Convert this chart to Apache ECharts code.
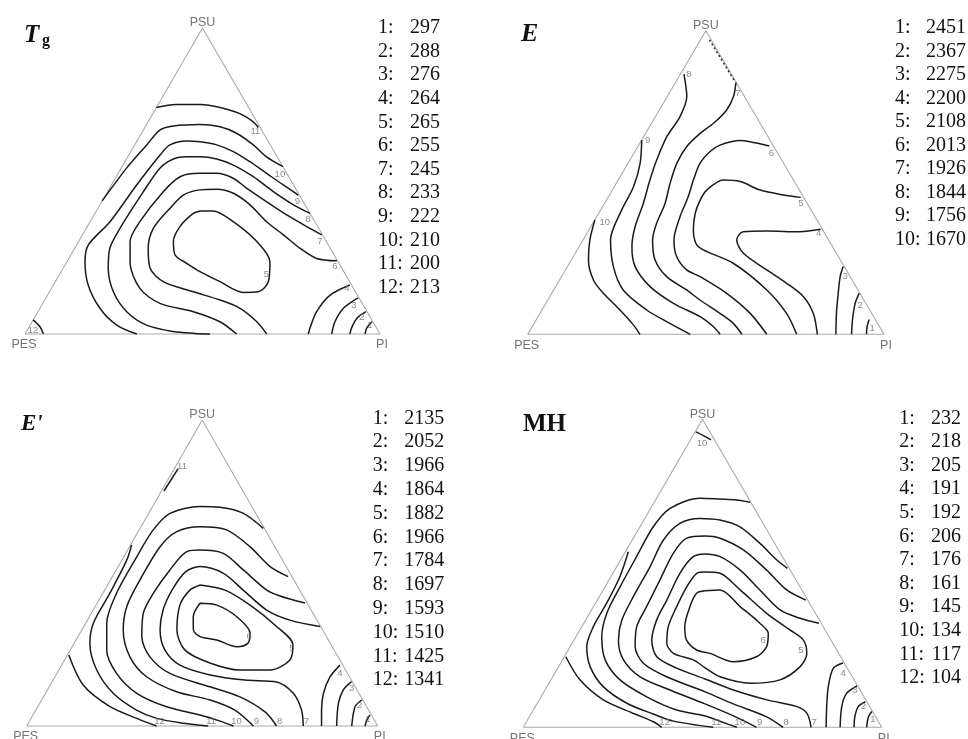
<!DOCTYPE html>
<html>
<head>
<meta charset="utf-8">
<script src="https://cdn.jsdelivr.net/npm/echarts/dist/echarts.min.js"></script>
<style>
  html, body { margin: 0; padding: 0; background: #fff; }
  #chart { width: 968px; height: 739px; }
</style>
</head>
<body>
<div id="chart"></div>
<script>
// Property values attached to each numbered iso-line
const tgLevels = [297, 288, 276, 264, 265, 255, 245, 233, 222, 210, 200, 213];
const eLevels  = [2451, 2367, 2275, 2200, 2108, 2013, 1926, 1844, 1756, 1670];
const epLevels = [2135, 2052, 1966, 1864, 1882, 1966, 1784, 1697, 1593, 1510, 1425, 1341];
const mhLevels = [232, 218, 205, 191, 192, 206, 176, 161, 145, 134, 117, 104];

// Iso-lines as blend compositions [PSU %, PI %]; PES = 100 - PSU - PI
// --- Tg ---
const tg1  = [[4,95.7],[1.9,95.3],[0,95.8]];
const tg2  = [[7.3,92.4],[5.1,90.9],[2,91],[0,91.5]];
const tg3  = [[11.8,87.9],[8.4,85.5],[4,85.3],[0,86.4]];
const tg4  = [[16,83.5],[12.7,79.6],[7.3,78.5],[1.9,79.3],[0,79.8]];
const tg5  = [[40.2,29.2],[40.2,32.9],[36.7,40.3],[30.2,50.2],[23.6,57.2],[17.1,60],[13.8,58.8],[13.6,54.7],[17.1,46.4],[20.4,39.1],[23.1,34],[25.8,29.4],[30.2,26.7],[35.1,26.1],[39.4,27.7],[40.2,29.2]];
const tg6  = [[23.9,75.9],[24.7,69.8],[28,63.5],[32.4,56.6],[36.7,49.7],[42.2,42.3],[46,35.7],[47.3,30.3],[47.1,25.7],[45.4,21.9],[41.1,20.3],[34.5,18.9],[28,20.7],[21.5,24.5],[17.1,30.4],[13.8,40.5],[11.1,49.4],[8.4,56.4],[4,63.3],[0,68.1]];
const tg7  = [[32.4,67.4],[35.1,61.8],[38.9,54.3],[43.2,46.5],[47.6,38.7],[50.9,33.2],[52.5,27.7],[52.5,23],[51.4,18],[46.5,15.7],[36.7,14],[30.2,14.5],[23.6,17.8],[14.9,24.9],[10,33],[7.3,43.8],[4,52.9],[0,59.6]];
const tg8  = [[39.4,60.6],[42.2,54.5],[46.5,46.7],[51.4,38.6],[55.2,31.1],[57.2,25.4],[57.9,20.3],[57.9,16.6],[57.2,13.2],[54.2,10.9],[46.5,10.1],[34.5,9.5],[28,9.9],[21.5,12.7],[13.8,18],[7.3,25],[2.9,32.8],[0.8,41.4],[0.2,47.8],[0,52.1]];
const tg9  = [[45.4,54.3],[48.7,48.4],[52.5,41.8],[56.3,35.2],[59.6,28.9],[61.8,23.1],[62.8,17.9],[63.1,14],[61.8,9.9],[58.5,8.8],[48.7,7.1],[36.7,5.6],[29.1,3.3],[23.6,5.1],[16,9.8],[8.4,16.9],[2.9,24.4],[0,31.5]];
const tg10 = [[43.5,0],[54.2,1.5],[61.8,3.4],[66.7,4.7],[68,7.8],[68.5,15],[67.7,21.1],[65.6,26.8],[61.8,33.4],[57.9,39.1],[54.7,45.3]];
const tg11 = [[74,0],[75,5],[75,12],[74,18],[72,24.5],[69.4,29.5],[67.5,32]];
const tg12 = [[4.6,0],[2.3,3.1],[0,5.2]];

// --- E ---
const e1  = [[4.9,93.4],[2.5,94],[0,95.1]];
const e2  = [[13.5,86.3],[10.2,86.8],[4.7,88.8],[0,90.9]];
const e3  = [[22.3,77.4],[19,78.2],[13.5,80.4],[6.9,83.2],[0,86.5]];
const e4  = [[34.6,64.9],[33.8,59.5],[34,50.1],[33.8,43.6],[31.1,43.1],[26.7,47.2],[21.2,56.5],[16.8,64.3],[12.4,71.2],[6.9,76.7],[0,81.3]];
const e5  = [[45.1,54.1],[45.9,48.8],[47.5,41.5],[50.3,34.5],[50.8,29.5],[47.5,26.5],[44.2,26.3],[39.8,27.1],[34.4,29.3],[30,32.2],[27.8,35.4],[23.4,46],[14.6,59.8],[6.9,69.2],[0,75.5]];
const e6  = [[62,36.8],[63.4,30.7],[63.8,27.7],[62.3,22.8],[60.2,21.1],[56.3,20.2],[50.8,21.1],[45.3,22.4],[38.7,23.4],[31.1,25.5],[25.6,29],[21.2,34],[19,38.9],[13.5,49.1],[6.9,59],[0,67.1]];
const e7  = [[82.9,17],[78.3,18.6],[73.9,18.9],[69.5,17.4],[66.2,15.3],[61.8,13.7],[56.3,13.7],[49.7,15.1],[43.1,17],[36.6,17.9],[31.1,19.5],[24.5,23.5],[19,29.5],[14.6,37.3],[11.3,42.7],[6.9,50.5],[3.6,55.9],[0,60.1]];
const e7edge = [[97,2.5],[83.5,16.3]];
const e8  = [[85.7,1],[78.3,5.5],[71.7,6.9],[65.1,6.5],[57.4,7.5],[50.8,8.9],[43.1,10.9],[35.5,12.4],[28.9,14.8],[22.3,19],[15.7,26.5],[10.2,35.8],[5.8,45.5],[2.5,50.9],[0,54]];
const e9  = [[64,0],[56.3,3.4],[48.6,5.4],[40.9,5.9],[31.1,7.7],[22.3,12.9],[14.6,19.5],[8,29.4],[3.6,38.1],[0,45.6]];
const e10 = [[37.7,0],[31.1,1.9],[24.5,4.8],[17.9,9.5],[13.5,14.5],[8,21.9],[3.1,28.1],[0,31.5]];

// --- E' ---
const ep1  = [[3.6,96],[2,95.9],[0,96.4]];
const ep2  = [[8.5,91.2],[6.3,90.4],[0,92.6]];
const ep3  = [[14.5,85.3],[11.8,84.3],[7.4,85.1],[0,88.3]];
const ep4  = [[19.9,79.3],[16.1,78.4],[10.7,79.2],[5.2,81.4],[0,84]];
const ep5  = [[46.1,26.4],[44.4,34.3],[39.5,43.9],[33,54.2],[26.5,62.6],[21.6,64.2],[18.3,60.2],[18.3,51.6],[20.6,41.9],[24.8,32.7],[31.4,27.1],[39.5,23.9],[44.4,24.3],[46.1,26.4]];
const ep6  = [[40.1,29.3],[39.5,34.4],[35.7,42],[30.3,48.5],[27,49.5],[25.9,46.9],[28.1,40.1],[29.2,34.8],[31.4,31.8],[35.7,29.6],[40.1,29.3]];
const ep7  = [[32.5,67.3],[34.6,57.7],[37.9,49.4],[44.4,39.5],[49.9,31.1],[52.1,23.3],[50.3,20],[44.4,19.2],[37.9,19.9],[31.4,22.3],[24.8,27],[19.9,33.7],[16.7,43.9],[15,54.7],[14.4,64],[10.7,70.6],[5.2,75.7],[0,78.8]];
const ep8  = [[40.2,59.2],[42.5,50.9],[44.4,46.2],[51,36.2],[56.4,27.8],[57.5,20.6],[57,17.1],[51,15.3],[43.4,14.4],[36.8,14.8],[29.2,18.2],[22.6,23.8],[17.2,32.2],[12.8,45.8],[9.5,56],[4.6,65.6],[0,71.2]];
const ep9  = [[48.8,50.1],[52.1,43.3],[58.6,34.3],[64.1,24.9],[65.1,16.8],[63.5,11],[58.6,8.7],[47.7,8.4],[39,9],[31.4,11.8],[22.6,18.1],[16.1,26.1],[11.2,37.1],[8.5,48],[5.2,56.7],[0,64.6]];
const ep10 = [[64.6,35.1],[69.5,27],[71.5,19.3],[71.7,13.5],[69.5,6.1],[64.1,4],[55.3,3.7],[43.4,3.9],[33.6,6],[24.8,10.4],[17.2,17],[10.7,26],[6.3,36.7],[3.6,47.6],[1.6,54.3],[0,58.9]];
const ep11 = [[59.2,0.3],[54.2,1.4],[43.4,2],[33.6,2.2],[27,4.5],[18.3,10.8],[10.7,19.3],[5.2,28.7],[2.5,35.8],[0.9,44.2],[0,51.7]];
const ep11top = [[76.8,0.7],[80.4,0.9],[84,1.1]];
const ep12 = [[23.2,0.4],[13.4,9.4],[6.3,20.6],[2.5,30.1],[0,37]];

// --- MH ---
const mh1  = [[5.1,94.7],[3.4,94.6],[0,95.8]];
const mh2  = [[8.3,91.3],[6.7,90.1],[3.4,90.8],[0,92.3]];
const mh3  = [[13.4,86.4],[11,84.7],[6.7,85.5],[0,88.4]];
const mh4  = [[20.9,78.8],[19.2,76.9],[13.2,78.5],[6.7,81.3],[0,84.5]];
const mh5  = [[50.4,25.5],[50,29.9],[44.6,38.2],[37,49.4],[31.6,58.6],[28.3,64],[24,67.1],[19.7,67.4],[15.4,63.9],[14.3,56.2],[16.4,46.7],[19.3,41.1],[21.9,36.5],[24,29.9],[27.3,26.4],[32.7,24.1],[39.2,23.2],[45.6,22.8],[50,23.4],[50.4,25.5]];
const mh6  = [[44.3,28.5],[44.6,32.6],[39.2,40.9],[33.8,49.1],[30.5,53.1],[26.2,54.8],[22.9,53.6],[21.3,47.9],[24,40.1],[25.1,35.8],[28.3,31.4],[32.7,28.7],[39.2,26.9],[43.5,26.6],[44.3,28.5]];
const mh7  = [[33.8,65.6],[35.4,59.5],[38.1,52.6],[44.6,43.7],[51.1,34.9],[55.4,27.2],[56.3,22.5],[55.4,19.7],[50,18.7],[41.3,19.4],[34.8,19.8],[28.3,21.7],[22.9,25.8],[19.2,33.2],[15.7,42.9],[12.1,52.6],[8.9,63.5],[6.7,73],[4.5,76.9],[0,80.3]];
const mh8  = [[41.3,58.2],[44.6,51.2],[51.1,42.3],[57.6,32.6],[61.4,24.2],[62.1,19.6],[61.4,14.9],[56.5,13.6],[47.8,14.2],[39.2,14.8],[32.7,15.3],[26.2,18.1],[20.8,23.1],[16.4,31.8],[11.5,45],[7.6,54.8],[3.4,66.2],[0,72.5]];
const mh9  = [[51.6,47.9],[54.3,43.6],[59.7,36.2],[65.1,27.9],[67.3,21.2],[67.8,15.4],[66.2,10.6],[60.8,8.7],[52.1,9.3],[42.4,9.5],[34.8,10.1],[28.3,12.4],[21.9,17],[16.4,24.4],[12.1,34.9],[7.6,46.9],[3.7,56.8],[0,65.1]];
const mh10 = [[73.1,26.7],[73.8,22.6],[74.1,17.8],[74.4,12.1],[71.1,5.4],[65.1,3.7],[55.4,3.9],[45.6,4.2],[37,4.8],[29.4,7.2],[21.9,11.9],[15.4,19.3],[9.9,29.5],[5.6,40],[3.7,48.9],[1.7,54.6],[0,59.6]];
const mh10top = [[95.9,0.2],[94.6,3.1],[93.3,5.7]];
const mh11 = [[57,0.8],[48.9,2.5],[40.3,3.1],[32.7,3.2],[26.2,4.6],[19.7,8.8],[13.2,15.7],[7.8,25],[4.3,34.1],[2,40.9],[0,53]];
const mh12 = [[22.9,0.4],[15.4,8.1],[8.9,17.9],[4.5,28.5],[1.8,35.4],[0,38.6]];

// Triangle outline: PES -> PI -> PSU -> PES
const frame = [[0,0],[0,100],[100,0],[0,0]];
const vertexNames = ['PES', 'PI', 'PSU'];

// composition [PSU, PI] -> plane position (x along PES-PI base, y = PSU share)
const toXY = p => [p[1] + p[0] / 2, p[0]];
const LAST = -1;

// each line: [level label, points, label anchor index, label offset x, y]
const panels = [
  {
    grid: { left: 25, top: 28, width: 355, height: 306 },
    lines: [
      ['1', tg1, 0, -2, 4], ['2', tg2, 0, -4, 6], ['3', tg3, 0, -4, 7], ['4', tg4, 0, -3, 3],
      ['5', tg5, 5, -2, -7], ['6', tg6, 0, -2, 6], ['7', tg7, 0, -2, 7], ['8', tg8, 0, -2, 6],
      ['9', tg9, 0, -1, 6], ['10', tg10, LAST, -3, 8], ['11', tg11, LAST, -3, 4], ['12', tg12, 1, -7, 3]
    ]
  },
  {
    grid: { left: 527.7, top: 30.7, width: 356.3, height: 303.6 },
    lines: [
      ['1', e1, 0, 3, 9], ['2', e2, 0, 1, 12], ['3', e3, 0, 2, 10], ['4', e4, 0, -2, 4],
      ['5', e5, 0, 0, 6], ['6', e6, 0, 2, 7], ['7', e7, 0, 2, 11], ['8', e8, 0, 5, 0],
      ['9', e9, 0, 6, 0], ['10', e10, 0, 10, 3]
    ],
    dotted: [e7edge]
  },
  {
    grid: { left: 26.7, top: 420, width: 351, height: 306 },
    lines: [
      ['1', ep1, 0, -2, 4], ['2', ep2, 0, -2, 5], ['3', ep3, 0, 0, 7], ['4', ep4, 0, 0, 8],
      ['5', ep5, 4, -1, 3], ['6', ep6, 3, -1, 3], ['7', ep7, LAST, 3, -5], ['8', ep8, LAST, 3, -5],
      ['9', ep9, LAST, 3, -5], ['10', ep10, LAST, 3, -5], ['11', ep11, LAST, 3, -5],
      ['11', ep11top, LAST, 4, -3], ['12', ep12, LAST, 3, -5]
    ]
  },
  {
    grid: { left: 523.3, top: 419.3, width: 358.4, height: 308 },
    lines: [
      ['1', mh1, 0, 1, 8], ['2', mh2, 0, -2, 5], ['3', mh3, 0, -2, 4], ['4', mh4, 0, 0, 10],
      ['5', mh5, 6, -6, -3], ['6', mh6, 4, -5, 7], ['7', mh7, LAST, 3, -5], ['8', mh8, LAST, 3, -5],
      ['9', mh9, LAST, 3, -5], ['10', mh10, LAST, 3, -5], ['10', mh10top, 1, -2, 7],
      ['11', mh11, LAST, 3, -5], ['12', mh12, LAST, 3, -5]
    ]
  }
];

const legends = [
  { levels: tgLevels, xL: 378, xR: 440, y0: 28, step: 23.6 },
  { levels: eLevels,  xL: 895, xR: 966, y0: 28, step: 23.5 },
  { levels: epLevels, xL: 372.7, xR: 444.3, y0: 418.3, step: 23.8 },
  { levels: mhLevels, xL: 899.3, xR: 961, y0: 418.3, step: 23.6 }
];

const SERIF = '"Liberation Serif", "Times New Roman", serif';
const SANS = '"Liberation Sans", Arial, Helvetica, sans-serif';

const grid = [], xAxis = [], yAxis = [], series = [];

panels.forEach((p, gi) => {
  grid.push(p.grid);
  xAxis.push({ type: 'value', gridIndex: gi, min: 0, max: 100, show: false });
  yAxis.push({ type: 'value', gridIndex: gi, min: 0, max: 100, show: false });

  series.push({
    type: 'line', xAxisIndex: gi, yAxisIndex: gi, data: frame.map(toXY),
    symbol: 'none', clip: false, silent: true, z: 1,
    lineStyle: { color: '#a9a9a9', width: 1.1 }
  });

  p.lines.forEach(([name, pts]) => {
    series.push({
      type: 'line', xAxisIndex: gi, yAxisIndex: gi, data: pts.map(toXY),
      symbol: 'none', smooth: 0.3, clip: false, silent: true, z: 2,
      lineStyle: { color: '#1a1a1a', width: 1.5 }
    });
  });

  (p.dotted || []).forEach(pts => {
    series.push({
      type: 'line', xAxisIndex: gi, yAxisIndex: gi, data: pts.map(toXY),
      symbol: 'none', clip: false, silent: true, z: 2,
      lineStyle: { color: '#333', width: 1.6, type: [2, 2.5] }
    });
  });

  // level numbers along the iso-lines
  series.push({
    type: 'scatter', xAxisIndex: gi, yAxisIndex: gi, symbolSize: 1, clip: false, silent: true, z: 3,
    itemStyle: { color: 'rgba(0,0,0,0)' },
    label: { show: true, position: 'inside', formatter: '{b}', color: '#6e6e6e', fontSize: 9.5, fontFamily: SANS },
    data: p.lines.map(([name, pts, at, dx, dy]) => ({
      name,
      value: toXY(pts[at === LAST ? pts.length - 1 : at]),
      label: { offset: [dx, dy] }
    }))
  });

  // corner names
  series.push({
    type: 'scatter', xAxisIndex: gi, yAxisIndex: gi, symbolSize: 1, clip: false, silent: true, z: 3,
    itemStyle: { color: 'rgba(0,0,0,0)' },
    label: { show: true, formatter: '{b}', color: '#505050', fontSize: 12.5, fontFamily: SANS },
    data: [
      { name: vertexNames[0], value: toXY(frame[0]), label: { position: 'bottom', distance: 4, offset: [-1, 0] } },
      { name: vertexNames[1], value: toXY(frame[1]), label: { position: 'bottom', distance: 4, offset: [2, 0] } },
      { name: vertexNames[2], value: toXY(frame[2]), label: { position: 'top', distance: 0, offset: [0, 2] } }
    ]
  });
});

const graphic = [];
legends.forEach(lg => {
  lg.levels.forEach((v, i) => {
    const y = lg.y0 + i * lg.step;
    graphic.push({
      type: 'text', x: lg.xL, y, silent: true,
      style: { text: (i + 1) + ':', font: '20px ' + SERIF, fill: '#111', textAlign: 'left', textVerticalAlign: 'middle' }
    });
    graphic.push({
      type: 'text', x: lg.xR, y, silent: true,
      style: { text: String(v), font: '20px ' + SERIF, fill: '#111', textAlign: 'right', textVerticalAlign: 'middle' }
    });
  });
});

// panel titles
const titles = [
  { text: 'T', x: 24, y: 36, font: 'italic bold 25px ' + SERIF },
  { text: 'g', x: 42, y: 41, font: 'bold 16px ' + SERIF },
  { text: 'E', x: 521, y: 34.7, font: 'italic bold 26px ' + SERIF },
  { text: "E'", x: 21, y: 423.7, font: 'italic bold 23px ' + SERIF },
  { text: 'MH', x: 523, y: 424.3, font: 'bold 25px ' + SERIF }
];
titles.forEach(t => graphic.push({
  type: 'text', x: t.x, y: t.y, silent: true,
  style: { text: t.text, font: t.font, fill: '#111', textAlign: 'left', textVerticalAlign: 'middle' }
}));

const chart = echarts.init(document.getElementById('chart'), null, { renderer: 'canvas' });
chart.setOption({
  animation: false,
  backgroundColor: '#ffffff',
  grid, xAxis, yAxis, series, graphic
});
</script>
</body>
</html>
